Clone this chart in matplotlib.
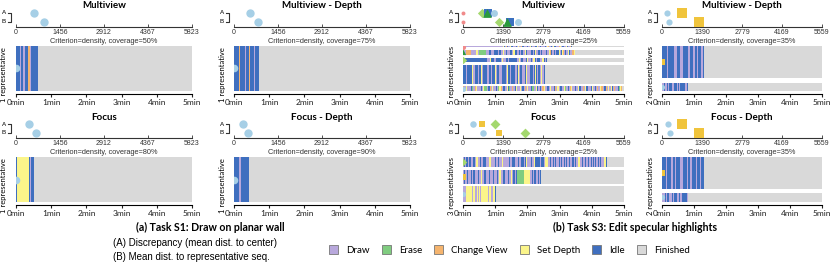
"""
Representative action sequences per condition, tasks S1 and S3
"""

from itertools import groupby

import matplotlib
matplotlib.use("Agg")
import matplotlib.pyplot as plt
from matplotlib.lines import Line2D
from matplotlib.patches import Patch

W, H = 830, 266
STEP = 2  # seconds per character in the sequence strings

plt.rcParams["font.family"] = ["Lato", "DejaVu Sans"]

# activity codes: D draw, E erase, C change view, S set depth, I idle
act_codes = ["D", "E", "C", "S", "I"]
act_names = ["Draw", "Erase", "Change View", "Set Depth", "Idle", "Finished"]
act_colors = ["#b8a8dc", "#80cc80", "#f5b46e", "#fbf58a", "#3f6fbf", "#d9d9d9"]

MARKERS = {
    "circ": ("o", "#a6cfe6"),
    "gsq": ("s", "#f0c43c"),
    "dia": ("D", "#a4d86e"),
    "tri": ("^", "#2a9a3c"),
    "bsq": ("s", "#3a70c0"),
    "pink": ("o", "#f08a8a"),
}

s1_ticks = [0, 1456, 2912, 4367, 5823]
s3_ticks = [0, 1390, 2779, 4169, 5559]
min_ticks = [0, 60, 120, 180, 240, 300]
min_labels = ["0min", "1min", "2min", "3min", "4min", "5min"]

# ---- task S1 ----
s1_mv_seqs = ["IIIDIIDDIICCDIIIIII"]
s1_mvd_seqs = ["IIIICIIIIDIIICIIIDIII"]
s1_fo_seqs = ["ISSSSSSSSSSIDII"]
s1_fod_seqs = ["IIIIDDIIIIIII"]
s1_mv_a, s1_mv_b = [596], [927]
s1_mvd_a, s1_mvd_b = [530], [794]
s1_fo_a, s1_fo_b = [430], [662]
s1_fod_a, s1_fod_b = [300], [463]

# ---- task S3 ----
s3_mv_seqs = [
    "DDDDDDDDDD DDDDDDDDDD DDDDDDDDDD DDDDDDD"
    "SIDC IDDS IIDD IDSD DCII DDDI DSID DDII SDDI DDDI DSCD DIDS IIDD CSDI IDDSIDDCI",
    "E DD CCCC DDDDD SS D EEEEEE DDD II DDD IIII D I DD S DD"
    "I DDD II D S II DD I D II DD S I DDD II D I S DD II D I DDD I DD S C I DD I D II S D I SC DIDDSIDDCS",
    "IIIIIIIIIIIIIIIIIIIIII DDD S III DD IIII D S DDD II D IIIIIII DD S D II DDD I S DD I D SS I DII IDDSIDI",
    "III D IIII S DD III D II S D III DD II D III S D II DD IIII D S II D III DD I S D II DDD I"
    "S DD III D I S I DIIDSDI",
    "CDDSDDDIED DCSDDDDIDS EEDIICDSDD DIDESCDIID DSIEDDCDIS DDDSDIIDCD SDDIEEDDSI"
    "DDIDCSDDII DSDDDICDSD IIDDSEDDID CSDDIDDSII DDCDSIDDDI SDDIDCDDSC DIICDS DDSIDCDDIESC",
]
s3_mvd_seqs = [
    "IIIII D IIIII DD D III DDD IIII DD III DD II DII IDI",
    "DD I DD I D II DD III D I D III II DI",
]
s3_fo_seqs = [
    "DIDIIDIDDI IDSSDDIDDI IDDDSSDDDD IDDIDDSDDD DDDIDDIIDD DIDDIIIDIS DDDIDDSIII"
    "IIDIIDSSSD DIDDIDIDDI DIDDIDIDDI DDIDIDDSSD DIDDIDIDDIDI DIDDIDIDDSSI",
    "D I DD I DD I D II DDD I DD S DD I DDD I D DD I D DDIDSDDIIDDDIDDSDI DI"
    "EEEEEEE SSSSS DDIDIIDDIDI",
    "DDDSSSSSDSSDDSDSDSSSSSSDSSDDSSI",
]
s3_fod_seqs = [
    "IIII D III DD II D IIII D DD III D II DD IIII DIII DII",
    "D DD I D II DD I D III DD I DD III ID",
]
s3_mv_a, s3_mv_b = [0, 656, 863, 828, 1070], [0, 1242, 1622, 1518, 1898]
s3_mvd_a, s3_mvd_b = [174, 694], [243, 1284]
s3_fo_a, s3_fo_b = [345, 656, 1104], [690, 1242, 2139]
s3_fod_a, s3_fod_b = [208, 694], [278, 1284]

panels = [
    dict(title="Multiview", cov=50, ticks=s1_ticks, seqs=s1_mv_seqs, a=s1_mv_a, b=s1_mv_b,
         marks=["circ"], sizes=[36], row_marks=["circ"], heights=[1], gap=0,
         ylabel="1 representative", x0=16, x1=192, dy=0),
    dict(title="Multiview - Depth", cov=75, ticks=s1_ticks, seqs=s1_mvd_seqs, a=s1_mvd_a, b=s1_mvd_b,
         marks=["circ"], sizes=[36], row_marks=["circ"], heights=[1], gap=0,
         ylabel="1 representative", x0=234, x1=410, dy=0),
    dict(title="Focus", cov=80, ticks=s1_ticks, seqs=s1_fo_seqs, a=s1_fo_a, b=s1_fo_b,
         marks=["circ"], sizes=[36], row_marks=["circ"], heights=[1], gap=0,
         ylabel="1 representative", x0=16, x1=192, dy=111),
    dict(title="Focus - Depth", cov=90, ticks=s1_ticks, seqs=s1_fod_seqs, a=s1_fod_a, b=s1_fod_b,
         marks=["circ"], sizes=[36], row_marks=["circ"], heights=[1], gap=0,
         ylabel="1 representative", x0=234, x1=410, dy=111),
    dict(title="Multiview", cov=25, ticks=s3_ticks, seqs=s3_mv_seqs, a=s3_mv_a, b=s3_mv_b,
         marks=["pink", "dia", "bsq", "tri", "circ"], sizes=[8, 22, 30, 40, 25],
         row_marks=["pink", "tri", "dia", "bsq", "circ"], heights=[1.5, 6, 5, 21, 5], gap=2.5,
         ylabel="5 representatives", x0=463, x1=624, dy=0),
    dict(title="Multiview - Depth", cov=35, ticks=s3_ticks, seqs=s3_mvd_seqs, a=s3_mvd_a, b=s3_mvd_b,
         marks=["circ", "gsq"], sizes=[20, 55], row_marks=["gsq", "circ"], heights=[31, 8], gap=4,
         ylabel="2 representatives", x0=662, x1=822, dy=0),
    dict(title="Focus", cov=25, ticks=s3_ticks, seqs=s3_fo_seqs, a=s3_fo_a, b=s3_fo_b,
         marks=["circ", "gsq", "dia"], sizes=[22, 25, 25], row_marks=["dia", "gsq", "circ"],
         heights=[10, 14, 16], gap=2.5,
         ylabel="3 representatives", x0=463, x1=624, dy=111),
    dict(title="Focus - Depth", cov=35, ticks=s3_ticks, seqs=s3_fod_seqs, a=s3_fod_a, b=s3_fod_b,
         marks=["circ", "gsq"], sizes=[20, 55], row_marks=["gsq", "circ"], heights=[31, 9], gap=4,
         ylabel="2 representatives", x0=662, x1=822, dy=111),
]

fig = plt.figure(figsize=(W / 100, H / 100), dpi=100)


def box(x0, y0, x1, y1):
    return [x0 / W, 1 - y1 / H, (x1 - x0) / W, (y1 - y0) / H]


def pt(x, y):
    return x / W, 1 - y / H


def fig_line(xs, ys):
    fig.add_artist(Line2D([x / W for x in xs], [1 - y / H for y in ys],
                          transform=fig.transFigure, color="#333333", linewidth=0.8))


def draw_panel(p):
    x0, x1, dy = p["x0"], p["x1"], p["dy"]
    cx = (x0 + x1) / 2
    fig.text(*pt(cx, 6 + dy), p["title"], ha="center", va="center", fontsize=7, fontweight="bold")

    # discrepancy strip
    ax = fig.add_axes(box(x0, 9 + dy, x1, 27 + dy))
    ax.set_xlim(0, p["ticks"][-1])
    ax.set_ylim(-0.556, 1.444)
    for key, a, b, s in zip(p["marks"], p["a"], p["b"], p["sizes"]):
        m, c = MARKERS[key]
        ax.scatter([a, b], [1, 0], marker=m, color=c, s=s, linewidths=0, clip_on=False, zorder=3)
    ax.set_xticks(p["ticks"], [str(t) for t in p["ticks"]])
    ax.tick_params(axis="x", direction="in", length=2.5, width=0.6, pad=1.5, colors="#333333",
                   labelsize=5, labelfontfamily="Liberation Sans")
    ax.set_yticks([])
    for side in ["left", "right", "top"]:
        ax.spines[side].set_visible(False)
    ax.spines["bottom"].set_linewidth(0.8)
    ax.spines["bottom"].set_color("#333333")
    ax.patch.set_alpha(0)
    fig.text(*pt(x0 - 12, 13 + dy), "A", fontsize=4.5, ha="center", va="center", family=["Liberation Sans"])
    fig.text(*pt(x0 - 12, 22 + dy), "B", fontsize=4.5, ha="center", va="center", family=["Liberation Sans"])
    fig_line([x0 - 8, x0 - 5, x0 - 5, x0 - 8], [13 + dy, 13 + dy, 22 + dy, 22 + dy])

    fig.text(*pt(cx, 41.5 + dy), f"Criterion=density, coverage={p['cov']}%",
             ha="center", va="center", fontsize=5.3, family=["Liberation Sans"], color="#333333")

    # representative sequences
    bx = fig.add_axes(box(x0, 46 + dy, x1, 91 + dy))
    y = 0
    for seq, h, key in zip(p["seqs"], p["heights"], p["row_marks"]):
        seq = seq.replace(" ", "")
        bx.broken_barh([(0, 300)], (y, h), facecolors=act_colors[-1], linewidth=0)
        t = 0
        for code, run in groupby(seq):
            n = len(list(run)) * STEP
            bx.broken_barh([(t, n)], (y, h), facecolors=act_colors[act_codes.index(code)], linewidth=0)
            t += n
        m, c = MARKERS[key]
        bx.scatter([0], [y + h / 2], marker=m, color=c, s=14 if len(p["seqs"]) > 1 else 30,
                   linewidths=0, zorder=3)
        y += h + p["gap"]
    bx.set_xlim(0, 300)
    bx.set_ylim(y - p["gap"], 0)
    bx.set_xticks(min_ticks, min_labels)
    bx.tick_params(axis="x", direction="out", length=2.5, width=0.8, pad=1.5, colors="#222222",
                   labelsize=6)
    bx.set_yticks([])
    for side in ["left", "right", "top"]:
        bx.spines[side].set_visible(False)
    bx.spines["bottom"].set_position(("outward", 2))
    bx.spines["bottom"].set_linewidth(0.8)
    fig.text(*pt(x0 - 12, 75 + dy), p["ylabel"], rotation=90, ha="center", va="center", fontsize=5.5)


for p in panels:
    draw_panel(p)

fig.text(*pt(210, 227), "(a) Task S1: Draw on planar wall", ha="center", va="center",
         fontsize=7.6, fontweight="bold")
fig.text(*pt(635, 227), "(b) Task S3: Edit specular highlights", ha="center", va="center",
         fontsize=7.6, fontweight="bold")
fig.text(*pt(113, 243), "(A) Discrepancy (mean dist. to center)", va="center",
         fontsize=7, family=["Liberation Sans"])
fig.text(*pt(113, 257), "(B) Mean dist. to representative seq.", va="center",
         fontsize=7, family=["Liberation Sans"])

handles = [Patch(facecolor=c, edgecolor="#777777", linewidth=0.6, label=n)
           for n, c in zip(act_names, act_colors)]
fig.legend(handles=handles, loc="center left", bbox_to_anchor=pt(329, 250), ncol=6,
           frameon=False, fontsize=7, handlelength=0.95, handleheight=0.95,
           handletextpad=0.8, columnspacing=1.25, borderpad=0, borderaxespad=0)

fig.savefig("out.png", dpi=100)
